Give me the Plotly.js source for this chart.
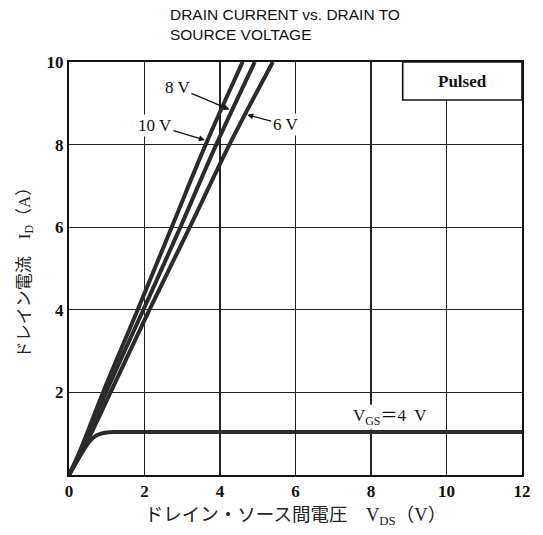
<!DOCTYPE html>
<html>
<head>
<meta charset="utf-8">
<script src="https://cdn.plot.ly/plotly-3.0.1.min.js"></script>
<style>html,body{margin:0;padding:0;background:#fff;}</style>
</head>
<body>
<div id="chart" style="width:543px;height:535px;"></div>
<script>
// Drain current vs drain-to-source voltage
const vds_10V = [0, 0.32, 0.9, 1.82, 2.72, 3.62, 4.6];
const id_10V  = [0, 0.65, 2, 4, 6, 8, 10];
const vds_8V  = [0, 0.38, 0.98, 1.97, 2.95, 3.9, 4.92];
const id_8V   = [0, 0.7, 2, 4, 6, 8, 10];
const vds_6V  = [0, 0.42, 1.1, 2.13, 3.2, 4.25, 5.4];
const id_6V   = [0, 0.7, 2, 4, 6, 8, 10];
const vds_4V  = [0, 0.2, 0.4, 0.55, 0.7, 0.85, 1.0, 1.2, 1.5, 12];
const id_4V   = [0, 0.32, 0.62, 0.82, 0.94, 1.0, 1.03, 1.04, 1.04, 1.04];

const xTicks = [0, 2, 4, 6, 8, 10, 12];
const yTicks = [2, 4, 6, 8, 10];

const lineColor = '#2b2b2b';
const serif = 'Liberation Serif, Noto Sans CJK JP, serif';

function curve(x, y, name) {
  return {x: x, y: y, name: name, type: 'scatter', mode: 'lines',
          line: {color: lineColor, width: 4, shape: 'spline', smoothing: 1},
          hoverinfo: 'x+y+name'};
}

const data = [
  curve(vds_10V, id_10V, 'V<sub>GS</sub>=10 V'),
  curve(vds_8V, id_8V, 'V<sub>GS</sub>=8 V'),
  curve(vds_6V, id_6V, 'V<sub>GS</sub>=6 V'),
  curve(vds_4V, id_4V, 'V<sub>GS</sub>=4 V')
];

const labelFont = {family: serif, size: 17, color: '#111'};

const layout = {
  width: 543, height: 535,
  margin: {l: 69, r: 21, t: 62, b: 60},
  paper_bgcolor: '#fff', plot_bgcolor: '#fff',
  showlegend: false,
  title: {
    text: 'DRAIN CURRENT vs. DRAIN TO<br>SOURCE VOLTAGE',
    font: {family: 'Liberation Sans, Arial, sans-serif', size: 15.5, color: '#111'},
    xref: 'container', yref: 'container',
    x: 0.313, xanchor: 'left', y: 0.963, yanchor: 'top'
  },
  xaxis: {
    range: [0, 12], tickvals: xTicks, ticktext: xTicks.map(String),
    showgrid: true, gridcolor: '#222', gridwidth: 1.3,
    showline: true, linecolor: '#111', linewidth: 2, mirror: true,
    zeroline: false, ticks: '', fixedrange: true,
    tickfont: {family: serif, size: 17, weight: 'bold', color: '#111'},
    title: {text: 'ドレイン・ソース間電圧　V<sub>DS</sub>（V）',
            font: {family: serif, size: 18.5, color: '#222'}, standoff: 8}
  },
  yaxis: {
    range: [0, 10], tickvals: yTicks, ticktext: yTicks.map(String),
    showgrid: true, gridcolor: '#222', gridwidth: 1.3,
    showline: true, linecolor: '#111', linewidth: 2, mirror: true,
    zeroline: false, ticks: '', fixedrange: true,
    tickfont: {family: serif, size: 17, weight: 'bold', color: '#111'},
    title: {text: 'ドレイン電流　I<sub>D</sub>（A）',
            font: {family: serif, size: 17, color: '#222'}, standoff: 12}
  },
  shapes: [
    {type: 'rect', xref: 'x', yref: 'y', x0: 8.84, x1: 12, y0: 9.08, y1: 10,
     fillcolor: '#fff', line: {color: '#111', width: 1.6}, layer: 'above'}
  ],
  annotations: [
    {x: 10.42, y: 9.54, xref: 'x', yref: 'y', text: 'Pulsed', showarrow: false,
     font: {family: serif, size: 17, weight: 'bold', color: '#111'}},
    {x: 4.25, y: 8.85, xref: 'x', yref: 'y', text: '8 V', showarrow: true,
     ax: -52, ay: -22, arrowhead: 2, arrowsize: 1, arrowwidth: 1.2, arrowcolor: '#111',
     font: labelFont, bgcolor: '#fff', borderpad: 1},
    {x: 3.6, y: 8.11, xref: 'x', yref: 'y', text: '10 V', showarrow: true,
     ax: -50, ay: -15, arrowhead: 2, arrowsize: 1, arrowwidth: 1.2, arrowcolor: '#111',
     font: labelFont, bgcolor: '#fff', borderpad: 1},
    {x: 4.72, y: 8.72, xref: 'x', yref: 'y', text: '6 V', showarrow: true,
     ax: 38, ay: 10, arrowhead: 2, arrowsize: 1, arrowwidth: 1.2, arrowcolor: '#111',
     font: labelFont, bgcolor: '#fff', borderpad: 1},
    {x: 8.49, y: 1.40, xref: 'x', yref: 'y', text: 'V<sub>GS</sub>＝4  V', showarrow: false,
     font: labelFont, bgcolor: '#fff', borderpad: 1}
  ]
};

Plotly.newPlot('chart', data, layout, {displayModeBar: false, staticPlot: true});
</script>
</body>
</html>
